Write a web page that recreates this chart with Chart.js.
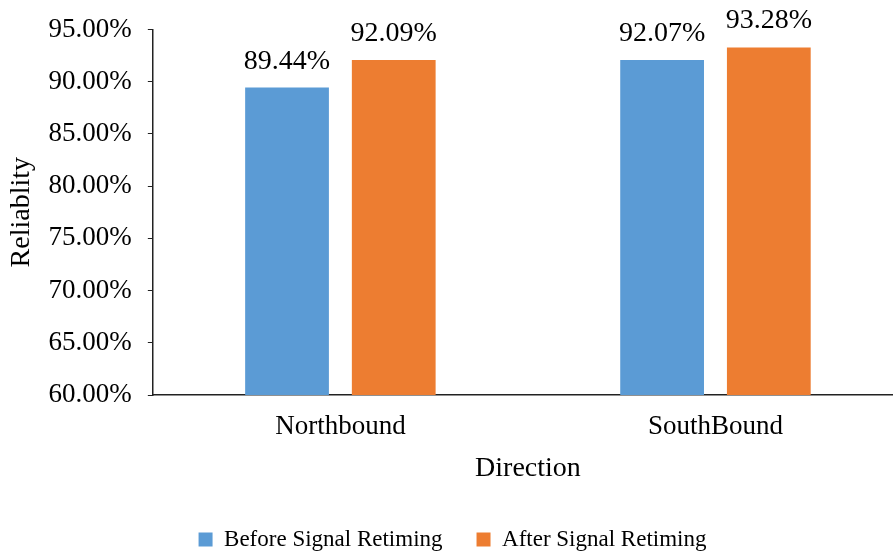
<!DOCTYPE html>
<html lang="en">
<head>
    <title>Reliability by direction</title>
    <script src="https://cdn.jsdelivr.net/npm/chart.js@4.4.0/dist/chart.umd.min.js"></script>
    <style>
        html, body { margin: 0; padding: 0; background: #fff; overflow: hidden; }
        #wrap { width: 903px; height: 551px; }
    </style>
</head>
<body>
<div id="wrap"><canvas id="reliabilityChart"></canvas></div>

<script type="text/javascript">

    const directions = ["Northbound", "SouthBound"];
    const beforeRetiming = [89.44, 92.07];
    const afterRetiming = [92.09, 93.28];
    const seriesNames = ["Before Signal Retiming", "After Signal Retiming"];

    const serif = "'Liberation Serif', 'Times New Roman', serif";

    // draws the percentage above every bar
    const valueLabels = {
        id: "valueLabels",
        afterDatasetsDraw(chart) {
            const ctx = chart.ctx;
            ctx.save();
            ctx.font = "28px " + serif;
            ctx.fillStyle = "#000";
            ctx.textAlign = "center";
            ctx.textBaseline = "alphabetic";
            chart.data.datasets.forEach((ds, i) => {
                chart.getDatasetMeta(i).data.forEach((bar, j) => {
                    ctx.fillText(ds.data[j].toFixed(2) + "%", bar.x, bar.y - 19);
                });
            });
            ctx.restore();
        }
    };

    new Chart("reliabilityChart", {
        type: 'bar',
        data: {
            labels: directions,
            datasets: [
                {
                    label: seriesNames[0],
                    data: beforeRetiming,
                    backgroundColor: "#5b9bd5"
                },
                {
                    label: seriesNames[1],
                    data: afterRetiming,
                    backgroundColor: "#ed7d31"
                }
            ]
        },
        options: {
            responsive: true,
            maintainAspectRatio: false,
            animation: false,
            categoryPercentage: 0.569,
            barPercentage: 0.785,
            layout: {padding: {left: 2, top: 7, right: 0, bottom: -10}},
            plugins: {
                legend: {
                    display: true,
                    position: 'bottom',
                    labels: {
                        font: {family: serif, size: 23},
                        color: "#000",
                        boxWidth: 14,
                        boxHeight: 14,
                        padding: 34
                    }
                },
                tooltip: {enabled: false}
            },
            scales: {
                x: {
                    grid: {display: true, drawOnChartArea: false, drawTicks: false, color: "#222"},
                    border: {display: true, color: "#222", width: 1.5},
                    ticks: {font: {family: serif, size: 27}, color: "#000", padding: 16},
                    title: {
                        display: true,
                        text: "Direction",
                        font: {family: serif, size: 28},
                        color: "#000",
                        padding: {top: -8, bottom: 9}
                    }
                },
                y: {
                    min: 60,
                    max: 95,
                    grid: {display: true, drawOnChartArea: false, drawTicks: true, tickLength: 5, color: "#222"},
                    border: {display: true, color: "#222", width: 1.5},
                    ticks: {
                        stepSize: 5,
                        font: {family: serif, size: 27, lineHeight: 1},
                        color: "#000",
                        padding: 16,
                        callback: v => v.toFixed(2) + "%"
                    },
                    title: {
                        display: true,
                        text: "Reliablity",
                        font: {family: serif, size: 28},
                        color: "#000",
                        padding: {top: 3, bottom: -6}
                    }
                }
            }
        },
        plugins: [valueLabels]
    });

</script>
</body>
</html>
